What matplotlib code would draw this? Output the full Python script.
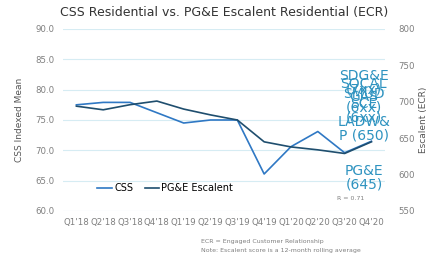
import matplotlib
matplotlib.use("Agg")
import matplotlib.pyplot as plt

quarters = ["Q1'18", "Q2'18", "Q3'18", "Q4'18", "Q1'19", "Q2'19",
            "Q3'19", "Q4'19", "Q1'20", "Q2'20", "Q3'20", "Q4'20"]
css = [77.5, 77.9, 77.9, 76.2, 74.5, 75.0, 75.0, 66.1, 70.6, 73.1, 69.6, 71.5]
escalent = [694, 689, 696, 701, 690, 682, 675, 645, 638, 634, 629, 645]

left_ticks = [60, 65, 70, 75, 80, 85, 90]
right_ticks = [550, 600, 650, 700, 750, 800]

# utility labels stacked at the right edge (overlapping, as in source)
util_labels = ["SDG&E\n(7xx)", "SOCAL\nGAS", "SMUD\n(6xx)", "SCE\n(6xx)",
               "LADW&\nP (650)", "PG&E\n(645)"]
util_y = [745, 734, 720, 707, 682, 614]

css_col = "#2f78c4"
esc_col = "#1f4e6e"
lab_col = "#2e93c0"
txt_col = "#7f7f7f"

fig = plt.figure(figsize=(4.3, 2.6), dpi=100)
ax = fig.add_axes([0.1465, 0.1885, 0.7485, 0.7])
ax2 = ax.twinx()

x = list(range(len(quarters)))
ax.plot(x, css, color=css_col, lw=1.2, label="CSS")
ax2.plot(x, escalent, color=esc_col, lw=1.2, label="PG&E Escalent")

ax.set_xlim(-0.5, len(quarters) - 0.5)
ax.set_ylim(60, 90)
ax2.set_ylim(550, 800)
ax.set_yticks(left_ticks)
ax.set_yticklabels(["%.1f" % v for v in left_ticks])
ax2.set_yticks(right_ticks)
ax.set_xticks(x)
ax.set_xticklabels(quarters)

ax.grid(axis="y", color="#d6ecf3", lw=0.8)
ax.set_axisbelow(True)
for a in (ax, ax2):
    for s in a.spines.values():
        s.set_visible(False)
    a.tick_params(length=0, labelsize=6.2, colors=txt_col)
ax.tick_params(axis="x", pad=5)
ax.tick_params(axis="y", pad=6)
ax2.tick_params(axis="y", pad=10)

ax.set_ylabel("CSS Indexed Mean", fontsize=6.5, color="#555555", labelpad=8)
ax2.set_ylabel("Escalent (ECR)", fontsize=6.5, color="#555555", labelpad=3)

ax.set_title("CSS Residential vs. PG&E Escalent Residential (ECR)",
             fontsize=9, color="#333333", pad=9)

for t, yv in zip(util_labels, util_y):
    ax2.text(10.72, yv, t, color=lab_col, fontsize=10, ha="center",
             va="top", linespacing=0.95)

ax.text(9.7, 61.8, "R = 0.71", fontsize=4.5, color=txt_col)

h1, l1 = ax.get_legend_handles_labels()
h2, l2 = ax2.get_legend_handles_labels()
ax.legend(h1 + h2, l1 + l2, loc="lower left", bbox_to_anchor=(0.08, 0.05),
          ncol=2, frameon=False, fontsize=7, handlelength=1.5,
          handletextpad=0.2, columnspacing=1.2)

fig.text(0.467, 0.067, "ECR = Engaged Customer Relationship",
         fontsize=4.5, color=txt_col)
fig.text(0.467, 0.030, "Note: Escalent score is a 12-month rolling average",
         fontsize=4.5, color=txt_col)

fig.savefig("out.png", dpi=100)
